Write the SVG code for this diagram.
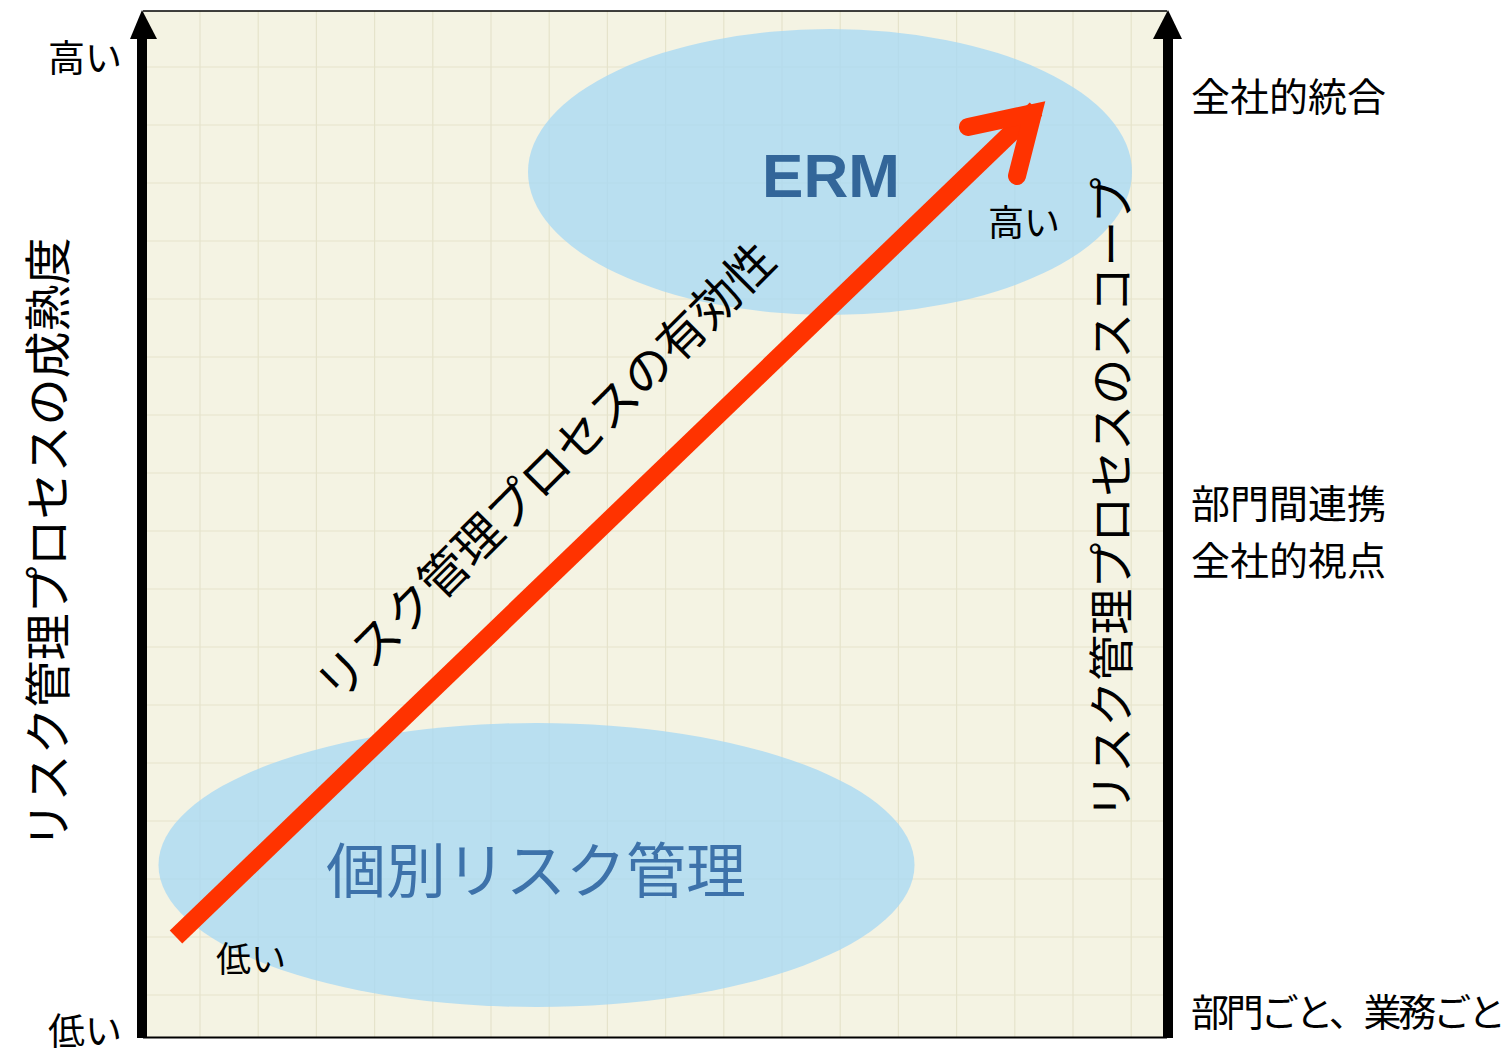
<svg xmlns="http://www.w3.org/2000/svg" width="1510" height="1049" viewBox="0 0 1510 1049">
  <style>
    .jp { font-family: "Noto Sans CJK JP", "Noto Sans", sans-serif; fill: #000; }
    .grid line { stroke: #E5E3CB; stroke-width: 1.2; }
    .ell { fill: #A8D8F4; fill-opacity: 0.78; }
    .axis { fill: #000; }
  </style>
  <rect x="0" y="0" width="1510" height="1049" fill="#FFFFFF"/>
  <g id="background">
    <rect x="143" y="11" width="1024" height="1027" fill="#F4F3E3"/>
    <g class="grid">
      <line x1="200" y1="11" x2="200" y2="1038"/>
      <line x1="258.2" y1="11" x2="258.2" y2="1038"/>
      <line x1="316.4" y1="11" x2="316.4" y2="1038"/>
      <line x1="374.6" y1="11" x2="374.6" y2="1038"/>
      <line x1="432.8" y1="11" x2="432.8" y2="1038"/>
      <line x1="491" y1="11" x2="491" y2="1038"/>
      <line x1="549.2" y1="11" x2="549.2" y2="1038"/>
      <line x1="607.4" y1="11" x2="607.4" y2="1038"/>
      <line x1="665.6" y1="11" x2="665.6" y2="1038"/>
      <line x1="723.8" y1="11" x2="723.8" y2="1038"/>
      <line x1="782" y1="11" x2="782" y2="1038"/>
      <line x1="840.2" y1="11" x2="840.2" y2="1038"/>
      <line x1="898.4" y1="11" x2="898.4" y2="1038"/>
      <line x1="956.6" y1="11" x2="956.6" y2="1038"/>
      <line x1="1014.8" y1="11" x2="1014.8" y2="1038"/>
      <line x1="1073" y1="11" x2="1073" y2="1038"/>
      <line x1="1131.2" y1="11" x2="1131.2" y2="1038"/>
      <line x1="143" y1="67" x2="1167" y2="67"/>
      <line x1="143" y1="125" x2="1167" y2="125"/>
      <line x1="143" y1="183" x2="1167" y2="183"/>
      <line x1="143" y1="241" x2="1167" y2="241"/>
      <line x1="143" y1="299" x2="1167" y2="299"/>
      <line x1="143" y1="357" x2="1167" y2="357"/>
      <line x1="143" y1="415" x2="1167" y2="415"/>
      <line x1="143" y1="473" x2="1167" y2="473"/>
      <line x1="143" y1="531" x2="1167" y2="531"/>
      <line x1="143" y1="589" x2="1167" y2="589"/>
      <line x1="143" y1="647" x2="1167" y2="647"/>
      <line x1="143" y1="705" x2="1167" y2="705"/>
      <line x1="143" y1="763" x2="1167" y2="763"/>
      <line x1="143" y1="821" x2="1167" y2="821"/>
      <line x1="143" y1="879" x2="1167" y2="879"/>
      <line x1="143" y1="937" x2="1167" y2="937"/>
      <line x1="143" y1="995" x2="1167" y2="995"/>
    </g>
    <line x1="143" y1="11" x2="1167" y2="11" stroke="#000" stroke-width="1.5"/>
    <line x1="143" y1="1037.5" x2="1167" y2="1037.5" stroke="#000" stroke-width="2"/>
  </g>

  <g id="erm">
    <ellipse class="ell" cx="830" cy="172" rx="302" ry="143"/>
    <text x="831" y="197" text-anchor="middle" font-family="Liberation Sans, Arial, sans-serif" font-weight="bold" font-size="62" fill="#336699">ERM</text>
  </g>

  <g id="individual">
    <ellipse class="ell" cx="536.5" cy="865" rx="378" ry="142"/>
    <text x="326" y="893" font-family="Noto Sans CJK JP, sans-serif" font-size="60" fill="#3D72AA">個別リスク管理</text>
  </g>

  <g id="labels">
    <text class="jp" x="48" y="72" font-size="37">高い</text>
    <text class="jp" x="48" y="1045" font-size="37">低い</text>
    <text class="jp" x="988" y="236" font-size="36">高い</text>
    <text class="jp" x="216" y="972" font-size="35">低い</text>
    <text class="jp" x="1191" y="111" font-size="39">全社的統合</text>
    <text class="jp" x="1191" y="518" font-size="39">部門間連携</text>
    <text class="jp" x="1191" y="575" font-size="39">全社的視点</text>
    <text class="jp" x="1191" y="1026" font-size="38" textLength="315" lengthAdjust="spacing">部門ごと、業務ごと</text>
    <text class="jp" text-anchor="middle" font-size="47" transform="translate(65,543) rotate(-90)">リスク管理プロセスの成熟度</text>
    <text class="jp" text-anchor="middle" font-size="46" transform="translate(1128,498) rotate(-90)">リスク管理プロセスのスコープ</text>
    <text class="jp" text-anchor="middle" font-size="48" transform="translate(558,484) rotate(-45)">リスク管理プロセスの有効性</text>
  </g>

  <g id="connectors">
    <g id="red-arrow" fill="none" stroke="#FF3300" stroke-width="18">
      <line x1="176" y1="937" x2="1036" y2="109" stroke-linecap="butt"/>
      <path d="M968,127 L1033,113 L1017,176" stroke-linecap="round" stroke-linejoin="miter" stroke-miterlimit="10"/>
    </g>
    <g id="left-axis">
      <rect class="axis" x="137" y="36" width="10" height="1002"/>
      <polygon class="axis" points="142,10 157,39 130,39"/>
    </g>
    <g id="right-axis">
      <rect class="axis" x="1163" y="36" width="10" height="1002"/>
      <polygon class="axis" points="1168,10 1182,39 1153,39"/>
    </g>
  </g>
</svg>
